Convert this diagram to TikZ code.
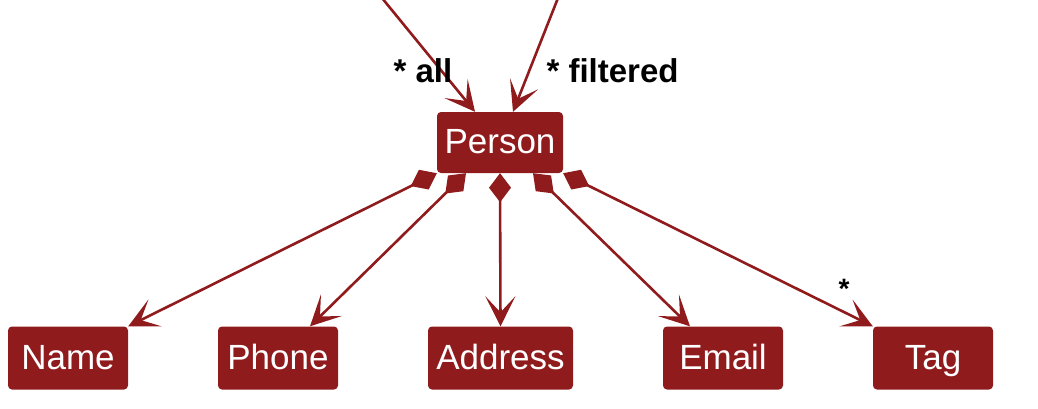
\documentclass[tikz,border=0pt]{standalone}
\usepackage{fontspec}
\setmainfont{Liberation Sans}
\usetikzlibrary{arrows.meta}
\definecolor{umlred}{RGB}{143,27,29}
\tikzset{%
	every class/.style={
		fill=umlred,
		draw=none,
		rounded corners=4pt,
		text=white,
		inner sep=0pt,
		minimum width=120pt,
		minimum height=63pt,
		text height=25pt,
		text depth=3pt,
		font=\fontsize{35}{40}\selectfont
	},
	assoc/.style={
		draw=umlred,
		line width=2.6pt,
		-{Stealth[length=30pt,width=30pt,inset=16pt]}
	},
	compose/.style={
		assoc,
		{Diamond[length=29pt,width=22pt]}-{Stealth[length=30pt,width=30pt,inset=16pt]}
	},
	mult/.style={
		font=\bfseries\fontsize{33}{36}\selectfont
	},
}
\begin{document}
\begin{tikzpicture}[x=1pt,y=-1pt]
	\useasboundingbox (0,0) rectangle (1038,408);
	
	% Person and the two lists above it
	\node[every class, minimum width=126pt, minimum height=61pt] (person) at (500,142.5) {Person};
	\coordinate (allsrc) at (382,-2);
	\coordinate (filteredsrc) at (558,-2);
	\draw[assoc] (allsrc) -- ([xshift=-25pt]person.north);
	\draw[assoc] (filteredsrc) -- ([xshift=13pt]person.north);
	\node[mult, anchor=base west] (alllabel) at (390,82) {* all};
	\node[mult, anchor=base west] (filteredlabel) at (543,82) {* filtered};
	
	% the fields
	\node[every class] (name) at (68,358) {Name};
	\node[every class] (phone) at (278,358) {Phone};
	\node[every class, minimum width=145pt] (address) at (500.5,358) {Address};
	\node[every class] (email) at (723,358) {Email};
	\node[every class] (tag) at (933,358) {Tag};
	
	% compositions
	\draw[compose] (person.south west) -- (name.north east);
	\draw[compose] ([xshift=-34pt]person.south) -- ([xshift=32pt]phone.north);
	\draw[compose] (person.south) -- (address.north);
	\draw[compose] ([xshift=33pt]person.south) -- ([xshift=-33pt]email.north);
	\draw[compose] (person.south east) -- (tag.north west);
	\node[font=\bfseries\fontsize{28}{32}\selectfont] (tagmult) at (844,289) {*};
	
\end{tikzpicture}
\end{document}
